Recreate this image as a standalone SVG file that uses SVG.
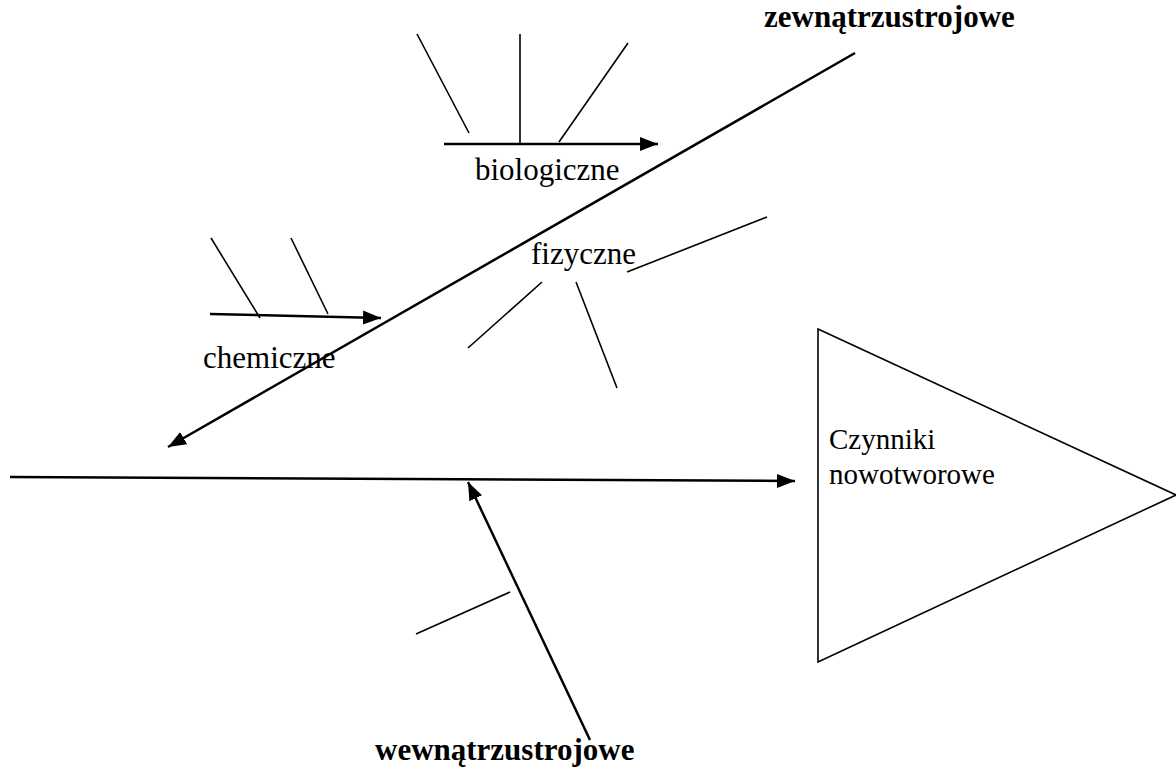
<svg xmlns="http://www.w3.org/2000/svg" width="1176" height="775" viewBox="0 0 1176 775">
<style>
.bone{stroke:#000;stroke-width:2.5;fill:none}
.rib{stroke:#000;stroke-width:1.6;fill:none}
.lbl{font-family:"Liberation Serif","Times New Roman",serif;font-size:31px;fill:#000}
.b{font-weight:bold}
</style>
<defs>
<marker id="ah" markerUnits="userSpaceOnUse" markerWidth="20" markerHeight="16" refX="18" refY="7" orient="auto" viewBox="0 0 20 14">
<path d="M0,0 L18,7 L0,14 Z" fill="#000"/>
</marker>
</defs>
<rect width="1176" height="775" fill="#fff"/>
<g id="connectors">
<line class="bone" x1="10" y1="477" x2="795" y2="481" marker-end="url(#ah)"/>
<line class="bone" x1="855" y1="53" x2="168" y2="447" marker-end="url(#ah)"/>
<line class="bone" x1="590" y1="740" x2="468" y2="482" marker-end="url(#ah)"/>
<line class="bone" x1="444" y1="144" x2="658" y2="144" marker-end="url(#ah)"/>
<line class="bone" x1="210" y1="314" x2="381" y2="318" marker-end="url(#ah)"/>
<line class="rib" x1="417" y1="34" x2="469" y2="133"/>
<line class="rib" x1="520" y1="34" x2="520" y2="143"/>
<line class="rib" x1="628" y1="43" x2="559" y2="142"/>
<line class="rib" x1="211" y1="238" x2="260" y2="318"/>
<line class="rib" x1="291" y1="238" x2="328" y2="314"/>
<line class="rib" x1="627" y1="272" x2="767" y2="217"/>
<line class="rib" x1="542" y1="282" x2="468" y2="348"/>
<line class="rib" x1="576" y1="282" x2="617" y2="388"/>
<line class="rib" x1="416" y1="634" x2="510" y2="592"/>
</g>
<g id="effect">
<polygon points="818,329 1176,495 818,662" fill="#fff" stroke="#000" stroke-width="1.6"/>
<text class="lbl" x="829" y="449" style="font-size:29px">Czynniki</text>
<text class="lbl" x="829" y="484" style="font-size:29px">nowotworowe</text>
</g>
<g id="zewnatrz"><text class="lbl b" x="764" y="27">zewnątrzustrojowe</text></g>
<g id="wewnatrz"><text class="lbl b" x="375" y="760">wewnątrzustrojowe</text></g>
<g id="biologiczne"><text class="lbl" x="475" y="180">biologiczne</text></g>
<g id="chemiczne"><text class="lbl" x="203" y="368">chemiczne</text></g>
<g id="fizyczne"><text class="lbl" x="531" y="264">fizyczne</text></g>
</svg>
